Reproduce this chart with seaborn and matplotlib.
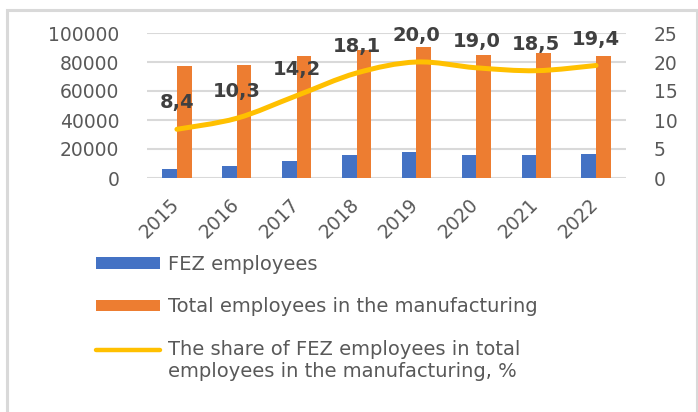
import numpy as np
import pandas as pd
import seaborn as sns
import matplotlib
matplotlib.use("Agg")
import matplotlib.pyplot as plt
from matplotlib.path import Path
from matplotlib.patches import PathPatch, Rectangle
from matplotlib.lines import Line2D
from matplotlib.legend_handler import HandlerLine2D
import matplotlib.transforms as mtransforms

years = ["2015", "2016", "2017", "2018", "2019", "2020", "2021", "2022"]
fez_employees = [6500, 8000, 11900, 15900, 18100, 16150, 15900, 16400]
total_employees = [77500, 78000, 84000, 88000, 90500, 85000, 86000, 84300]
share_pct = [8.4, 10.3, 14.2, 18.1, 20.0, 19.0, 18.5, 19.4]
share_labels = ["8,4", "10,3", "14,2", "18,1", "20,0", "19,0", "18,5", "19,4"]
left_ticks = [0, 20000, 40000, 60000, 80000, 100000]
right_ticks = [0, 5, 10, 15, 20, 25]

series_fez = "FEZ employees"
series_total = "Total employees in the manufacturing"
series_share = "The share of FEZ employees in total\nemployees in the manufacturing, %"

BLUE = "#4472C4"
ORANGE = "#ED7D31"
YELLOW = "#FFC000"
GRID = "#D9D9D9"
TXT = "#595959"
LBL = "#404040"

sns.set_theme(style="white")
plt.rcParams["font.family"] = ["DejaVu Sans"]

df = pd.DataFrame({
    "year": years * 2,
    "value": fez_employees + total_employees,
    "series": [series_fez] * len(years) + [series_total] * len(years),
})

W, H = 698, 412
fig = plt.figure(figsize=(W / 100, H / 100), dpi=100)
fig.patch.set_facecolor("white")
ax = fig.add_axes([147 / W, 1 - 178 / H, (626 - 147) / W, (178 - 33) / H])

sns.barplot(data=df, x="year", y="value", hue="series", order=years,
            hue_order=[series_fez, series_total],
            palette=[BLUE, ORANGE], width=0.49, gap=0, saturation=1,
            linewidth=0, ax=ax, legend=False)
ax.set_ylim(0, 100000)
ax.set_xlim(-0.5, len(years) - 0.5)
ax.set_yticks(left_ticks)
ax.set_yticklabels([str(v) for v in left_ticks])
ax.yaxis.grid(True, color=GRID, linewidth=1.5)
ax.set_axisbelow(True)
for s in ax.spines.values():
    s.set_visible(False)
ax.tick_params(axis="y", length=0, pad=20, labelsize=13.5, labelcolor=TXT)
ax.tick_params(axis="x", length=0, pad=12, labelsize=13.5, labelcolor=TXT)
ax.set_xlabel("")
ax.set_ylabel("")
offset = mtransforms.ScaledTranslation(6 / 100, 0, fig.dpi_scale_trans)
for lab in ax.get_xticklabels():
    lab.set_rotation(45)
    lab.set_ha("right")
    lab.set_transform(lab.get_transform() + offset)

ax2 = ax.twinx()
ax2.set_ylim(0, 25)
ax2.set_yticks(right_ticks)
ax2.set_yticklabels([str(v) for v in right_ticks])
ax2.tick_params(axis="y", length=0, pad=20, labelsize=13.5, labelcolor=TXT)
for s in ax2.spines.values():
    s.set_visible(False)
ax2.grid(False)

# smoothed line (Catmull-Rom as cubic Bezier through the data points)
xs = np.arange(len(years), dtype=float)
ys = np.array(share_pct, dtype=float)
verts = [(xs[0], ys[0])]
codes = [Path.MOVETO]
n = len(xs)
for i in range(n - 1):
    p0 = np.array([xs[max(i - 1, 0)], ys[max(i - 1, 0)]])
    p1 = np.array([xs[i], ys[i]])
    p2 = np.array([xs[i + 1], ys[i + 1]])
    p3 = np.array([xs[min(i + 2, n - 1)], ys[min(i + 2, n - 1)]])
    c1 = p1 + (p2 - p0) / 6
    c2 = p2 - (p3 - p1) / 6
    verts += [tuple(c1), tuple(c2), tuple(p2)]
    codes += [Path.CURVE4] * 3
ax2.add_patch(PathPatch(Path(verts, codes), facecolor="none", edgecolor=YELLOW,
                        linewidth=3.6, capstyle="round", joinstyle="round", zorder=3))

for x, y, t in zip(xs, ys, share_labels):
    ax2.annotate(t, (x, y), xytext=(0, 19), textcoords="offset points",
                 ha="center", va="center", fontsize=14, fontweight="bold",
                 color=LBL, zorder=4)


class HandlerTopLine(HandlerLine2D):
    """Line handle aligned with the first line of a two-line label."""
    def create_artists(self, legend, orig_handle, xdescent, ydescent,
                       width, height, fontsize, trans):
        artists = super().create_artists(legend, orig_handle, xdescent, ydescent,
                                         width, height, fontsize, trans)
        shift = mtransforms.Affine2D().translate(0, 8)
        for a in artists:
            a.set_transform(shift + a.get_transform())
        return artists


handles = [
    Rectangle((0, 0), 1, 1, facecolor=BLUE, edgecolor="none"),
    Rectangle((0, 0), 1, 1, facecolor=ORANGE, edgecolor="none"),
    Line2D([0], [0], color=YELLOW, linewidth=3.2, solid_capstyle="round"),
]
leg = fig.legend(handles, [series_fez, series_total, series_share],
                 loc="upper left", bbox_to_anchor=(96 / W, 1 - 255 / H),
                 frameon=False, fontsize=14, labelcolor=TXT,
                 handlelength=3.3, handleheight=0.55, handletextpad=0.4,
                 labelspacing=1.2, borderpad=0, borderaxespad=0,
                 handler_map={Line2D: HandlerTopLine()})

fig.add_artist(Rectangle((7.5 / W, -0.1), (697 - 7.5) / W, (1 - 10 / H) + 0.1,
                         transform=fig.transFigure, facecolor="none",
                         edgecolor=GRID, linewidth=2.2, clip_on=False))

fig.savefig("out.png", dpi=100)
